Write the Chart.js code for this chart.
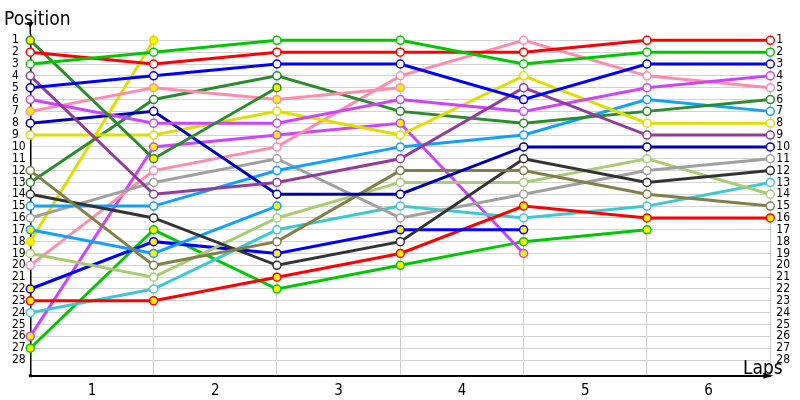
<!DOCTYPE html>
<html><head><meta charset="utf-8">
<script src="https://cdn.jsdelivr.net/npm/chart.js@4/dist/chart.umd.min.js"></script>
<style>html,body{margin:0;padding:0;background:#fff}#wrap{width:800px;height:400px}</style>
</head><body><div id="wrap"><canvas id="c" width="800" height="400"></canvas></div>
<script>
// ---- data ----
const lapLabels = ['1', '2', '3', '4', '5', '6'];
const positionTicks = [1,2,3,4,5,6,7,8,9,10,11,12,13,14,15,16,17,18,19,20,21,22,23,24,25,26,27,28];

const green      = [3, 2, 1, 1, 3, 2, 2];
const red        = [2, 3, 2, 2, 2, 1, 1];
const blue       = [5, 4, 3, 3, 6, 3, 3];
const darkGreenA = [1, 11, 5];
const purple     = [4, 14, 13, 11, 5, 9, 9];
const violetA    = [6, 8, 8, 6, 7, 5, 4];
const pinkA      = [7, 5, 6, 5];
const navy       = [8, 7, 14, 14, 10, 10, 10];
const yellowA    = [9, 9, 7, 9, 4, 8, 8];
const olive      = [12, 20, 18, 12, 12, 14, 15];
const darkGreenB = [13, 6, 4, 7, 8, 7, 6];
const black      = [14, 16, 20, 18, 11, 13, 12];
const lightBlueA = [15, 15, 12, 10, 9, 6, 7];
const gray       = [16, 13, 11, 16, 14, 12, 11];
const lightBlueB = [17, 19, 15];
const yellowB    = [18, 1];
const lightGreen = [19, 21, 16, 13, 13, 11, 14];
const pinkB      = [20, 12, 10, 4, 1, 4, 5];
const blueB      = [22, 18, 19, 17, 17];
const redB       = [23, 23, 21, 19, 15, 16, 16];
const cyan       = [24, 22, 17, 15, 16, 15, 13];
const violetB    = [26, 10, 9, 8, 19];
const greenB     = [27, 17, 22, 20, 18, 17];

// series table: [values, line colour, filled marker]
const seriesList = [
  [green, '#00c800', false], [red, '#ff0000', false], [blue, '#0000ff', false],
  [darkGreenA, '#2a8c2a', true], [purple, '#933c9e', false], [violetA, '#cc44ff', false],
  [pinkA, '#ff8cac', true], [navy, '#0000b4', false], [yellowA, '#dede00', false],
  [olive, '#808048', false], [darkGreenB, '#2a8c2a', false], [black, '#333333', false],
  [lightBlueA, '#10a0ff', false], [gray, '#a0a0a0', false], [lightBlueB, '#10a0ff', true],
  [yellowB, '#dede00', true], [lightGreen, '#a8cc70', false], [pinkB, '#ff8cac', false],
  [blueB, '#0000ff', true], [redB, '#ff0000', true], [cyan, '#40c8d0', false],
  [violetB, '#cc44ff', true], [greenB, '#00c800', true]
];

const FAM = "'DejaVu Sans Condensed', 'DejaVu Sans', sans-serif";

const datasets = seriesList.map(([vals, col, filled]) => ({
  data: vals.map((v, i) => ({x: i, y: v})),
  borderColor: col,
  backgroundColor: col,
  borderWidth: 3,
  pointRadius: 4,
  pointBorderWidth: 1.5,
  pointBorderColor: col,
  pointBackgroundColor: filled ? '#fff200' : '#ffffff',
  tension: 0,
  clip: false
}));

const deco = {
  id: 'deco',
  afterDraw(chart) {
    const {ctx, chartArea: a} = chart;
    ctx.save();
    ctx.fillStyle = '#000'; ctx.strokeStyle = '#000';
    ctx.lineWidth = 1.5;
    ctx.beginPath(); ctx.moveTo(a.left, a.top); ctx.lineTo(a.left, 24); ctx.stroke();
    ctx.beginPath(); ctx.moveTo(a.left - 3.5, 22); ctx.lineTo(a.left + 3.5, 22); ctx.lineTo(a.left, 28); ctx.closePath(); ctx.fill();
    ctx.beginPath(); ctx.moveTo(a.right - 7, a.bottom - 3); ctx.lineTo(a.right + 3, a.bottom); ctx.lineTo(a.right - 7, a.bottom + 3); ctx.closePath(); ctx.fill();
    ctx.fillRect(a.left - 1.5, a.bottom - 1.5, 3, 3);
    ctx.font = '19px ' + FAM;
    ctx.textBaseline = 'alphabetic'; ctx.textAlign = 'left';
    ctx.fillText('Position', 4, 25);
    ctx.fillText('Laps', 743, 374);
    ctx.restore();
  }
};

new Chart(document.getElementById('c'), {
  type: 'line',
  data: {datasets},
  options: {
    responsive: false,
    animation: false,
    events: [],
    layout: {padding: {left: 12, top: 34.4, right: 0, bottom: 0}},
    plugins: {legend: {display: false}, tooltip: {enabled: false}},
    scales: {
      x: {
        type: 'linear', min: 0, max: 6,
        afterBuildTicks: s => { const t = []; for (let v = 0; v <= 12; v++) t.push({value: v / 2}); s.ticks = t; },
        afterFit: s => { s.height = 24.2; },
        ticks: {
          autoSkip: false, maxRotation: 0, minRotation: 0, padding: 6, color: '#000',
          font: {size: 15, family: FAM},
          callback: v => (Math.round(v * 2) % 2 === 1) ? lapLabels[Math.floor(v)] : ''
        },
        grid: {
          drawTicks: false, lineWidth: 1,
          color: c => (c.tick && c.tick.value % 1 === 0 && c.tick.value > 0) ? '#cccccc' : 'rgba(0,0,0,0)'
        },
        border: {color: '#000', width: 2}
      },
      y: {
        type: 'linear', position: 'left', reverse: true, min: 0.5, max: 29.33,
        afterBuildTicks: s => { s.ticks = positionTicks.map(v => ({value: v})); },
        afterFit: s => { s.width = 18.3; },
        ticks: {autoSkip: false, crossAlign: 'far', padding: 0, color: '#000', font: {size: 12, family: FAM}},
        grid: {drawTicks: false, color: '#d2d2d2', lineWidth: 1},
        border: {color: '#000', width: 1.5}
      },
      y2: {
        type: 'linear', position: 'right', reverse: true, min: 0.5, max: 29.33,
        afterBuildTicks: s => { s.ticks = positionTicks.map(v => ({value: v})); },
        afterFit: s => { s.width = 29.7; },
        ticks: {autoSkip: false, crossAlign: 'near', padding: 6, color: '#000', font: {size: 12, family: FAM}},
        grid: {display: false, drawTicks: false},
        border: {display: false}
      }
    }
  },
  plugins: [deco]
});
</script>
</body></html>
